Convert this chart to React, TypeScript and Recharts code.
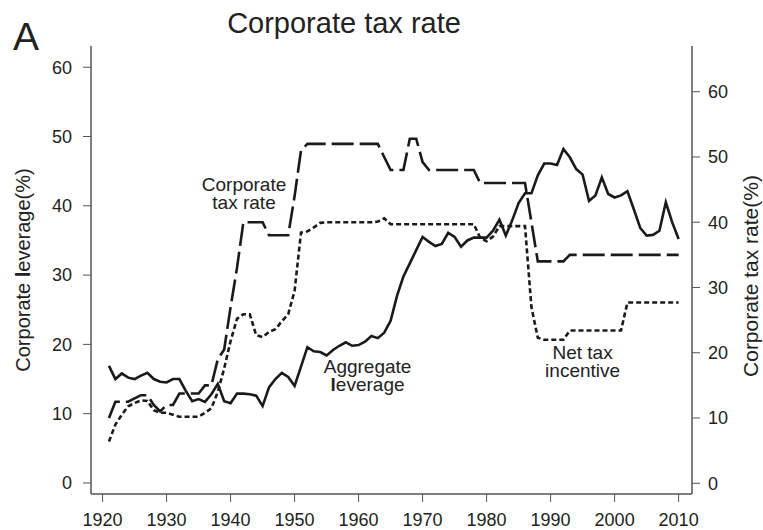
import React from 'react';
import { LineChart, Line, XAxis, YAxis, ReferenceDot } from 'recharts';

const startYear = 1921;

// aggregate corporate leverage, % (left axis)
const leverage = [
  16.9, 15.0, 15.8, 15.2, 15.0, 15.5, 15.9, 15.0, 14.6, 14.5,
  15.0, 15.0, 13.3, 11.8, 12.1, 11.7, 12.8, 14.3, 11.8, 11.5,
  12.9, 12.9, 12.8, 12.6, 11.1, 13.8, 15.0, 15.9, 15.3, 14.0,
  16.8, 19.6, 19.0, 18.9, 18.4, 19.2, 19.8, 20.3, 19.8, 19.9,
  20.4, 21.2, 20.9, 21.7, 23.4, 27.0, 29.8, 31.7, 33.6, 35.5,
  34.8, 34.2, 34.5, 36.1, 35.5, 34.1, 35.0, 35.4, 35.4, 35.4,
  36.4, 38.0, 35.7, 37.9, 40.4, 41.8, 41.8, 44.4, 46.1, 46.1,
  45.9, 48.2, 47.0, 45.3, 44.5, 40.7, 41.5, 44.1, 41.7, 41.2,
  41.5, 42.1, 39.5, 36.8, 35.7, 35.8, 36.4, 40.5, 37.6, 35.2,
];

// top corporate tax rate, % (right axis)
const taxRate = [
  10, 12.5, 12.5, 12.5, 13, 13.5, 13.5, 12, 11, 12,
  12, 13.75, 13.75, 13.75, 13.75, 15, 15, 19, 20.5, 27,
  33, 40, 40, 40, 40, 38, 38, 38, 38, 44,
  51, 52, 52, 52, 52, 52, 52, 52, 52, 52,
  52, 52, 52, 50, 48, 48, 48, 52.8, 52.8, 49.2,
  48, 48, 48, 48, 48, 48, 48, 48, 46, 46,
  46, 46, 46, 46, 46, 46, 40, 34, 34, 34,
  34, 34, 35, 35, 35, 35, 35, 35, 35, 35,
  35, 35, 35, 35, 35, 35, 35, 35, 35, 35,
];

// net tax incentive, % (right axis)
const netTax = [
  6.4, 9.0, 10.5, 11.8, 12.3, 12.7, 12.6, 11.2, 10.8, 10.8,
  10.5, 10.2, 10.2, 10.2, 10.2, 10.8, 11.5, 14.0, 17.6, 21.8,
  25.2, 25.9, 25.9, 22.7, 22.4, 23.2, 23.6, 24.8, 25.9, 29.5,
  38.4, 38.6, 39.2, 39.9, 40.0, 40.0, 40.0, 40.0, 40.0, 40.0,
  40.0, 40.0, 40.1, 40.6, 39.7, 39.7, 39.7, 39.7, 39.7, 39.7,
  39.7, 39.7, 39.7, 39.7, 39.7, 39.7, 39.7, 39.7, 37.6, 37.1,
  37.8, 39.4, 39.4, 39.4, 39.4, 39.4, 27.0, 22.3, 22.0, 22.0,
  22.0, 22.0, 23.4, 23.4, 23.4, 23.4, 23.4, 23.4, 23.4, 23.4,
  23.4, 27.7, 27.7, 27.7, 27.7, 27.7, 27.7, 27.7, 27.7, 27.7,
];

const yearTicks = [1920, 1930, 1940, 1950, 1960, 1970, 1980, 1990, 2000, 2010];
const levTicks = [0, 10, 20, 30, 40, 50, 60];
const taxTicks = [0, 10, 20, 30, 40, 50, 60];

// in-plot annotations, anchored in data space (left axis)
const notes = [
  { year: 1942.1, level: 42.1, lines: ['Corporate', 'tax rate'] },
  { year: 1961.4, level: 15.8, lines: ['Aggregate', 'leverage'] },
  { year: 1995.0, level: 17.9, lines: ['Net tax', 'incentive'] },
];

const data = leverage.map((v, i) => ({
  year: startYear + i,
  leverage: v,
  tax: taxRate[i],
  net: netTax[i],
}));

const FONT = '"Liberation Sans", Arial, Helvetica, sans-serif';
const INK = '#1a1a1a';
const TEXT = '#222';
const FRAME = '#555';

// the source draws the "l" of "leverage" heavier
function withBoldL(s: string) {
  const i = s.indexOf('leverage');
  if (i < 0) return s;
  return (
    <>
      {s.slice(0, i)}
      <tspan fontWeight={700}>l</tspan>
      {s.slice(i + 1)}
    </>
  );
}

const noteLabel = (lines: string[]) => (props: any) => {
  const vb = props.viewBox || {};
  const cx = (vb.x ?? props.x ?? 0) + (vb.width ?? 0) / 2;
  const cy = (vb.y ?? props.y ?? 0) + (vb.height ?? 0) / 2;
  return (
    <text x={cx} y={cy} textAnchor="middle" fontSize={19} fill={TEXT} fontFamily={FONT}>
      {lines.map((l, i) => (
        <tspan key={i} x={cx} dy={i === 0 ? 0 : 18}>{withBoldL(l)}</tspan>
      ))}
    </text>
  );
};

const tickStyle = { fill: TEXT, fontSize: 18, fontFamily: FONT };

export default function App() {
  return (
    <div style={{ position: 'absolute', left: 0, top: 0, width: 763, height: 530, background: '#fff' }}>
      <LineChart
        width={763}
        height={530}
        data={data}
        margin={{ top: 46, right: 0, bottom: 0, left: 0 }}
      >
        <XAxis
          dataKey="year"
          type="number"
          domain={[1918.19, 2012.09]}
          allowDataOverflow
          ticks={yearTicks}
          interval={0}
          height={36}
          tick={tickStyle}
          tickSize={8}
          tickMargin={11}
          tickLine={{ stroke: FRAME }}
          axisLine={{ stroke: FRAME, strokeWidth: 1.5 }}
        />
        <XAxis
          xAxisId="top"
          orientation="top"
          dataKey="year"
          type="number"
          domain={[1918.19, 2012.09]}
          allowDataOverflow
          height={0}
          tick={false}
          tickLine={false}
          axisLine={{ stroke: FRAME, strokeWidth: 1.5 }}
        />
        <YAxis
          yAxisId="lev"
          orientation="left"
          type="number"
          domain={[-1.59, 63.06]}
          allowDataOverflow
          ticks={levTicks}
          interval={0}
          width={91}
          tick={tickStyle}
          tickSize={8}
          tickMargin={11}
          tickLine={{ stroke: FRAME }}
          axisLine={{ stroke: FRAME, strokeWidth: 1.5 }}
        />
        <YAxis
          yAxisId="tax"
          orientation="right"
          type="number"
          domain={[-1.64, 67.0]}
          allowDataOverflow
          ticks={taxTicks}
          interval={0}
          width={71}
          tick={tickStyle}
          tickSize={8}
          tickMargin={8}
          tickLine={{ stroke: FRAME }}
          axisLine={{ stroke: FRAME, strokeWidth: 1.5 }}
        />
        <Line
          yAxisId="tax"
          dataKey="tax"
          type="linear"
          stroke={INK}
          strokeWidth={2.6}
          strokeDasharray="22 6"
          dot={false}
          isAnimationActive={false}
        />
        <Line
          yAxisId="tax"
          dataKey="net"
          type="linear"
          stroke={INK}
          strokeWidth={2.6}
          strokeDasharray="5 3"
          dot={false}
          isAnimationActive={false}
        />
        <Line
          yAxisId="lev"
          dataKey="leverage"
          type="linear"
          stroke={INK}
          strokeWidth={2.6}
          dot={false}
          isAnimationActive={false}
        />
        {notes.map((n) => (
          <ReferenceDot
            key={n.lines[0]}
            yAxisId="lev"
            x={n.year}
            y={n.level}
            r={1}
            fill="none"
            stroke="none"
            label={noteLabel(n.lines)}
          />
        ))}
      </LineChart>
      <svg
        width={763}
        height={530}
        style={{ position: 'absolute', left: 0, top: 0, pointerEvents: 'none' }}
      >
        <text x={13} y={50} fontSize={39} fill={TEXT} fontFamily={FONT}>A</text>
        <text x={344} y={33} fontSize={29} fill={TEXT} fontFamily={FONT} textAnchor="middle">
          Corporate tax rate
        </text>
        <text
          x={30}
          y={270}
          fontSize={20}
          fill={TEXT}
          fontFamily={FONT}
          textAnchor="middle"
          transform="rotate(-90, 30, 270)"
        >
          {withBoldL('Corporate leverage(%)')}
        </text>
        <text
          x={758}
          y={276}
          fontSize={21}
          fill={TEXT}
          fontFamily={FONT}
          textAnchor="middle"
          transform="rotate(-90, 758, 276)"
        >
          Corporate tax rate(%)
        </text>
      </svg>
    </div>
  );
}
